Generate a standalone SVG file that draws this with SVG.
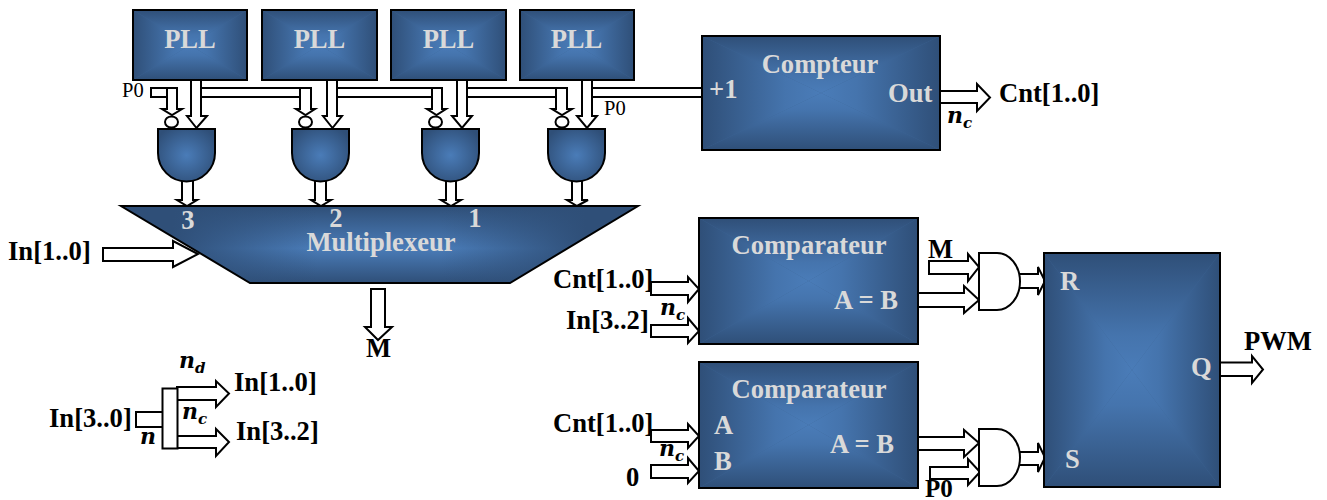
<svg xmlns="http://www.w3.org/2000/svg" width="1327" height="500" viewBox="0 0 1327 500">
<style>
text{font-family:"Liberation Serif","Times New Roman",serif}
.a{fill:#fff;stroke:#000;stroke-width:2;stroke-linejoin:miter}
.bus{fill:#fff;stroke:#000;stroke-width:2}
.box{fill:none;stroke:#000;stroke-width:2}
.g{stroke:#000;stroke-width:2;fill:url(#rad)}
.w{fill:#fff;stroke:#000;stroke-width:2}
.l{font-weight:700;font-size:26.600px;fill:#d9d9d9}
.k{font-weight:700;font-size:26.600px;fill:#000}
.s{font-size:20.500px;fill:#000}
.m{font-family:"DejaVu Serif",serif;font-weight:700;font-style:italic;font-size:22px;fill:#000}
.m tspan{font-size:15px}
</style>
<defs>
<linearGradient id="gt" x1="0" y1="0" x2="0" y2="1"><stop offset="0" stop-color="#2f4f78"/><stop offset=".7" stop-color="#4574ad"/><stop offset="1" stop-color="#4a7cb8"/></linearGradient>
<linearGradient id="gb" x1="0" y1="1" x2="0" y2="0"><stop offset="0" stop-color="#2f4f78"/><stop offset=".7" stop-color="#4574ad"/><stop offset="1" stop-color="#4a7cb8"/></linearGradient>
<linearGradient id="gl" x1="0" y1="0" x2="1" y2="0"><stop offset="0" stop-color="#2f4f78"/><stop offset=".7" stop-color="#4574ad"/><stop offset="1" stop-color="#4a7cb8"/></linearGradient>
<linearGradient id="gr" x1="1" y1="0" x2="0" y2="0"><stop offset="0" stop-color="#2f4f78"/><stop offset=".7" stop-color="#4574ad"/><stop offset="1" stop-color="#4a7cb8"/></linearGradient>
<radialGradient id="rad" cx=".5" cy=".5" r=".6"><stop offset="0" stop-color="#4a7cb8"/><stop offset="1" stop-color="#2f4f78"/></radialGradient>
<linearGradient id="mv" x1="0" y1="0" x2="0" y2="1"><stop offset="0" stop-color="#2f4f78"/><stop offset=".55" stop-color="#4a7cb8"/><stop offset="1" stop-color="#2f4f78"/></linearGradient>
<linearGradient id="mh" x1="0" y1="0" x2="1" y2="0"><stop offset=".1" stop-color="#2f4f78"/><stop offset=".38" stop-color="#2f4f78" stop-opacity="0"/><stop offset=".62" stop-color="#2f4f78" stop-opacity="0"/><stop offset=".9" stop-color="#2f4f78"/></linearGradient>
<symbol id="fill" viewBox="0 0 100 100" preserveAspectRatio="none">
<rect width="100" height="100" fill="#3c6596"/>
<polygon points="0,0 100,0 50,50" fill="url(#gt)"/>
<polygon points="0,100 100,100 50,50" fill="url(#gb)"/>
<polygon points="0,0 0,100 50,50" fill="url(#gl)"/>
<polygon points="100,0 100,100 50,50" fill="url(#gr)"/>
</symbol>
</defs>

<g id="connectors">
<rect class="bus" x="151" y="88" width="20" height="9"/>
<rect class="bus" x="196" y="88" width="110" height="9"/>
<rect class="bus" x="332" y="88" width="105" height="9"/>
<rect class="bus" x="462" y="88" width="100" height="9"/>
<rect class="bus" x="587" y="88" width="120" height="9"/>
<polygon class="a" points="167,88 177,88 177,109 182,109 172,115 162,109 167,109"/>
<polygon class="a" points="191,78 201,78 201,116 207,116 196.500,128 187,116 191,116"/>
<polygon class="a" points="300,88 311,88 311,109 315,109 305.500,115 296,109 300,109"/>
<polygon class="a" points="327,78 337,78 337,116 342,116 332.500,128 323,116 327,116"/>
<polygon class="a" points="432,88 442,88 442,109 446,109 436.500,115 427,109 432,109"/>
<polygon class="a" points="457,78 467,78 467,116 472,116 462,128 452,116 457,116"/>
<polygon class="a" points="556,88 567,88 567,109 572,109 562,115 552,109 556,109"/>
<polygon class="a" points="582,78 592,78 592,116 597,116 587,128 577,116 582,116"/>
<polygon class="a" points="182,180 193,180 193,200 197,200 187,206 177,200 182,200"/>
<polygon class="a" points="315,180 326,180 326,200 331,200 321,206 311,200 315,200"/>
<polygon class="a" points="446,180 456,180 456,200 461,200 451,206 441,200 446,200"/>
<polygon class="a" points="572,180 582,180 582,200 588,200 577,206 567,200 572,200"/>
<polygon class="a" points="938,91 977,91 977,84 990,97.500 977,111 977,103 938,103"/>
<polygon class="a" points="103,248 173,248 173,241 198,254 173,267 173,261 103,261"/>
<polygon class="a" points="371,289 385,289 385,327 392,327 378,340 365,327 371,327"/>
<polygon class="a" points="651,282 688,282 688,277 699,289 688,302 688,295 651,295"/>
<polygon class="a" points="651,325 688,325 688,318 699,331 688,343 688,337 651,337"/>
<polygon class="a" points="651,430 688,430 688,424 699,436 688,448 688,442 651,442"/>
<polygon class="a" points="651,465 688,465 688,458 699,471 688,483 688,478 651,478"/>
<polygon class="a" points="929,261 968,261 968,254 979,267 968,281 968,274 929,274"/>
<polygon class="a" points="916,293 964,293 964,286 979,300 964,313 964,307 916,307"/>
<polygon class="a" points="1018,274 1038,274 1038,267 1045,281 1038,295 1038,288 1018,288"/>
<polygon class="a" points="916,437 964,437 964,430 979,443 964,457 964,450 916,450"/>
<polygon class="a" points="930,467 968,467 968,459 980,472 968,485 968,479 930,479"/>
<polygon class="a" points="1018,452 1038,452 1038,443 1045,457.500 1038,472 1038,465 1018,465"/>
<polygon class="a" points="1218,362.500 1252,362.500 1252,356 1263,369.500 1252,383 1252,376 1218,376"/>
<polygon class="a" points="177,387 216,387 216,381 229,393.500 216,407 216,400 177,400"/>
<polygon class="a" points="177,436 216,436 216,429 229,442 216,456 216,448 177,448"/>
<polygon class="a" points="136,412 164,412 164,427 136,427"/>
</g>

<g id="pll1"><use href="#fill" x="133" y="10" width="114" height="70"/><rect class="box" x="133" y="10" width="114" height="70"/><text class="l" x="190" y="48" text-anchor="middle">PLL</text></g>
<g id="pll2"><use href="#fill" x="262" y="10" width="115" height="70"/><rect class="box" x="262" y="10" width="115" height="70"/><text class="l" x="319.500" y="48" text-anchor="middle">PLL</text></g>
<g id="pll3"><use href="#fill" x="391" y="10" width="115" height="70"/><rect class="box" x="391" y="10" width="115" height="70"/><text class="l" x="448.500" y="48" text-anchor="middle">PLL</text></g>
<g id="pll4"><use href="#fill" x="520" y="10" width="114" height="70"/><rect class="box" x="520" y="10" width="114" height="70"/><text class="l" x="576.500" y="48" text-anchor="middle">PLL</text></g>

<g id="and1"><path class="g" d="M158 129H215V153A28.500 28.500 0 0 1 158 153Z"/><ellipse class="w" cx="171.500" cy="122" rx="6.500" ry="5.500"/></g>
<g id="and2"><path class="g" d="M292 129H349V153A28.500 28.500 0 0 1 292 153Z"/><ellipse class="w" cx="305.500" cy="122" rx="6.500" ry="5.500"/></g>
<g id="and3"><path class="g" d="M422 129H479V153A28.500 28.500 0 0 1 422 153Z"/><ellipse class="w" cx="435.500" cy="122" rx="6.500" ry="5.500"/></g>
<g id="and4"><path class="g" d="M548 129H605V153A28.500 28.500 0 0 1 548 153Z"/><ellipse class="w" cx="562" cy="122" rx="6.500" ry="5.500"/></g>

<g id="mux">
<polygon points="121,206 638,206 510,283 250,283" fill="url(#mv)"/>
<polygon points="121,206 638,206 510,283 250,283" fill="url(#mh)"/>
<polygon class="box" points="121,206 638,206 510,283 250,283"/>
<text class="l" x="188" y="229" text-anchor="middle">3</text>
<text class="l" x="336" y="227" text-anchor="middle">2</text>
<text class="l" x="475" y="227" text-anchor="middle">1</text>
<text class="l" x="381" y="251" text-anchor="middle">Multiplexeur</text>
</g>

<g id="compteur"><use href="#fill" x="702" y="36" width="238" height="114"/><rect class="box" x="702" y="36" width="238" height="114"/>
<text class="l" x="820" y="73" text-anchor="middle">Compteur</text><text class="l" x="709" y="98">+1</text><text class="l" x="888" y="102">Out</text></g>

<g id="comp1"><use href="#fill" x="699" y="218" width="219" height="126"/><rect class="box" x="699" y="218" width="219" height="126"/>
<text class="l" x="809" y="254" text-anchor="middle">Comparateur</text><text class="l" x="834" y="309">A = B</text></g>

<g id="comp2"><use href="#fill" x="699" y="362" width="219" height="126"/><rect class="box" x="699" y="362" width="219" height="126"/>
<text class="l" x="809" y="398" text-anchor="middle">Comparateur</text><text class="l" x="714" y="434">A</text><text class="l" x="714" y="470">B</text><text class="l" x="830" y="453">A = B</text></g>

<g id="andR"><path class="w" d="M979 253H997A23 28.500 0 0 1 997 310H979Z"/></g>
<g id="andS"><path class="w" d="M979 429H997A23 28.500 0 0 1 997 486H979Z"/></g>

<g id="ff"><use href="#fill" x="1044" y="253" width="176" height="234"/><rect class="box" x="1044" y="253" width="176" height="234"/>
<text class="l" x="1060" y="290">R</text><text class="l" x="1065" y="468">S</text><text class="l" x="1191" y="376">Q</text></g>

<g id="splitter"><rect class="w" x="162.500" y="388.500" width="15" height="60"/></g>

<g id="labels">
<text class="s" x="122" y="97">P0</text>
<text class="s" x="604" y="115">P0</text>
<text class="k" x="999" y="102">Cnt[1..0]</text>
<text class="m" x="947" y="123">n<tspan dy="5">c</tspan></text>
<text class="k" x="8" y="260">In[1..0]</text>
<text class="k" x="366" y="357">M</text>
<text class="k" x="553" y="288">Cnt[1..0]</text>
<text class="m" x="660" y="315">n<tspan dy="5">c</tspan></text>
<text class="k" x="566" y="329">In[3..2]</text>
<text class="k" x="553" y="432">Cnt[1..0]</text>
<text class="m" x="659" y="456">n<tspan dy="5">c</tspan></text>
<text class="k" x="626" y="486">0</text>
<text class="k" x="928" y="258">M</text>
<text class="k" x="925" y="497" style="font-size:25px">P0</text>
<text class="k" x="1244" y="350">PWM</text>
<text class="k" x="49" y="427">In[3..0]</text>
<text class="k" x="234" y="391">In[1..0]</text>
<text class="k" x="236" y="440">In[3..2]</text>
<text class="m" x="179" y="368">n<tspan dy="5">d</tspan></text>
<text class="m" x="182" y="419">n<tspan dy="5">c</tspan></text>
<text class="m" x="140" y="444">n</text>
</g>
</svg>
